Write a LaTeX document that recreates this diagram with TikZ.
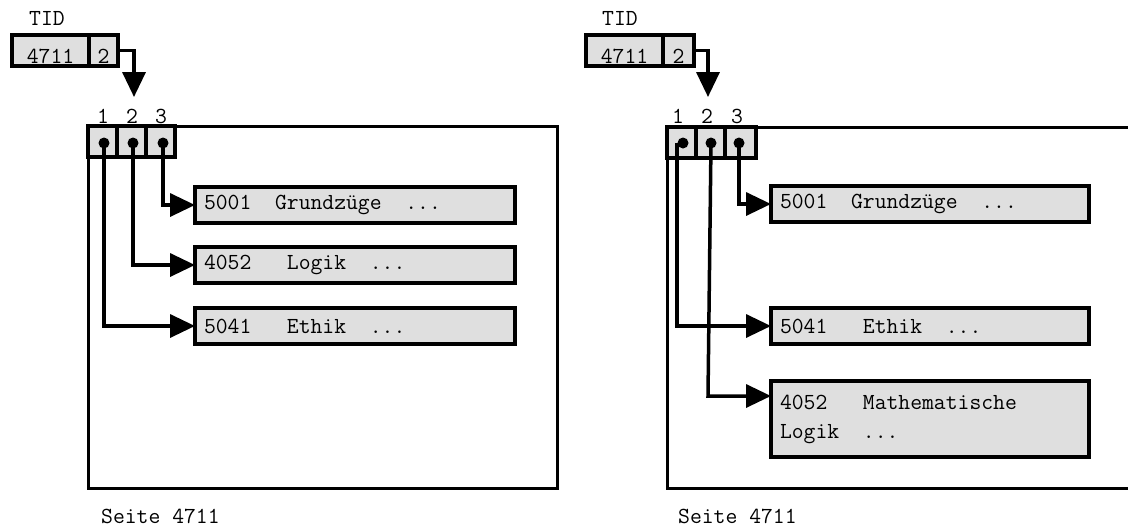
\documentclass[tikz,border=0pt]{standalone}
\usepackage{fontspec}
\usetikzlibrary{arrows.meta}
\newcommand\tsp{\hphantom{0}}
\begin{document}
\begin{tikzpicture}[x=1pt,y=-1pt,
  every node/.style={font=\ttfamily\fontsize{23}{29}\selectfont},
  box/.style={draw, line width=3.5pt, fill=gray!25, outer sep=0pt, inner sep=0pt},
  rec/.style={box, anchor=north west, minimum height=36pt, inner xsep=9pt, align=left},
  tidbox/.style={box, anchor=north west, minimum height=31pt, text height=25pt, text depth=0pt},
  cellbox/.style={box, anchor=north west, minimum width=29pt, minimum height=31pt},
  pin/.style={circle, fill=black, inner sep=0pt, minimum size=11pt},
  conn/.style={line width=3.5pt},
  arr/.style={conn, -{Triangle[length=25pt,width=23pt]}},
  pageline/.style={line width=3pt},
  lbl/.style={inner sep=0pt, anchor=base}]
\fill[white] (0,0) rectangle (1128,528);
\useasboundingbox (0,0) rectangle (1128,528);

% ---------------- left panel ----------------
\node[lbl, anchor=base west] (tidL) at (29,25) {TID};
\node[tidbox, minimum width=77pt] (tL1) at (12,35) {4711};
\node[tidbox, minimum width=29pt] (tL2) at (89,35) {2};
\coordinate (tipL) at (134,97);
\draw[arr] (tL2.east) -| (tipL);

\node[draw, pageline, anchor=north west, minimum width=469pt, minimum height=362pt, inner sep=0pt, outer sep=0pt] (pL) at (88,126) {};
\node[cellbox] (cL1) at (88,126) {};
\node[cellbox] (cL2) at (117,126) {};
\node[cellbox] (cL3) at (146,126) {};
\node[lbl] (nL1) at (103,123) {1};
\node[lbl] (nL2) at (132,123) {2};
\node[lbl] (nL3) at (161,123) {3};
\node[pin] (dL1) at (104,143) {};
\node[pin] (dL2) at (133,143) {};
\node[pin] (dL3) at (163,143) {};

\node[rec, text width=302pt] (rL1) at (195,187) {5001\tsp\tsp Grundzüge\tsp\tsp...};
\node[rec, text width=302pt] (rL2) at (195,247) {4052\tsp\tsp\tsp Logik\tsp\tsp...};
\node[rec, text width=302pt] (rL3) at (195,308) {5041\tsp\tsp\tsp Ethik\tsp\tsp...};

\draw[arr] (dL3.center) |- (rL1.west);
\draw[arr] (dL2.center) |- (rL2.west);
\draw[arr] (dL1.center) |- (rL3.west);

\node[lbl, anchor=base west] (sL) at (101,523) {Seite\tsp 4711};

% ---------------- right panel ----------------
\node[lbl, anchor=base west] (tidR) at (602,25) {TID};
\node[tidbox, minimum width=77pt] (tR1) at (586,35) {4711};
\node[tidbox, minimum width=31pt] (tR2) at (663,35) {2};
\coordinate (tipR) at (708,97);
\draw[arr] (tR2.east) -| (tipR);

\draw[pageline] (1130,127) -- (667,127) -- (667,488) -- (1130,488);
\node[cellbox] (cR1) at (667,127) {};
\node[cellbox] (cR2) at (696,127) {};
\node[cellbox, minimum width=31pt] (cR3) at (725,127) {};
\node[lbl] (nR1) at (678,123) {1};
\node[lbl] (nR2) at (707,123) {2};
\node[lbl] (nR3) at (737,123) {3};
\node[pin] (dR1) at (683,143) {};
\node[pin] (dR2) at (711,143) {};
\node[pin] (dR3) at (739,143) {};

\node[rec, text width=300pt] (rR1) at (771,186) {5001\tsp\tsp Grundzüge\tsp\tsp...};
\node[rec, text width=300pt] (rR2) at (771,308) {5041\tsp\tsp\tsp Ethik\tsp\tsp...};
\node[rec, text width=300pt, minimum height=76pt] (rR3) at (771,381) {4052\tsp\tsp\tsp Mathematische\\Logik\tsp\tsp...};

\draw[arr] (dR3.center) |- (rR1.west);
\coordinate (bR1) at ([xshift=-6pt]dR1.center);
\draw[arr] (bR1) |- (rR2.west);
\coordinate (kR2) at (708,396);
\draw[arr] (dR2.center) -- (kR2) -- (kR2 -| rR3.west);

\node[lbl, anchor=base west] (sR) at (678,523) {Seite\tsp 4711};
\end{tikzpicture}
\end{document}
